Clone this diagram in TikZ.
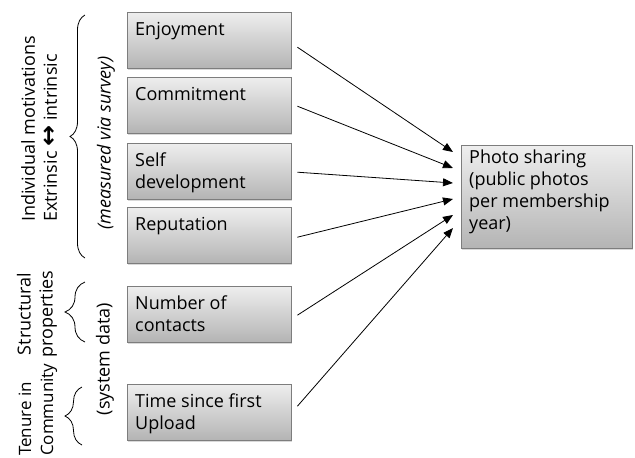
\documentclass[tikz,border=0pt]{standalone}
\usepackage{fontspec}
\setmainfont{Open Sans}
\newfontfamily\arrowfont{DejaVu Sans}
\usepackage{tikz}
\usepackage{xcolor}
\usetikzlibrary{shapes, positioning, arrows.meta, decorations.pathreplacing, shadows}

\definecolor{boxtop}{RGB}{238,238,238}
\definecolor{boxbottom}{RGB}{180,180,180}
\definecolor{boxline}{RGB}{125,125,125}

\tikzset{
    factor/.style={draw=boxline, top color=boxtop, bottom color=boxbottom, anchor=north west,
        inner xsep=8pt, inner ysep=8pt,
        drop shadow={shadow xshift=1pt, shadow yshift=-2pt, fill=black, opacity=0.15}},
    group/.style={rotate=90, inner sep=0pt},
    curly/.style={decorate, decoration={brace, amplitude=#1}, line width=0.8pt},
}
\newcommand{\boxtext}[1]{\parbox[c][40pt][t]{148pt}{\raggedright\strut #1}}

\begin{document}
\begin{tikzpicture}[x=1pt, y=-1pt, font=\fontsize{18}{22}\selectfont,
        >={Triangle[length=10pt, width=8pt]}]
        \useasboundingbox (0,0) rectangle (635,458);

        \node[factor] (enjoy) at (127, 12) {\boxtext{Enjoyment}};
        \node[factor] (commit) at (127, 77) {\boxtext{Commitment}};
        \node[factor] (self) at (127, 143) {\boxtext{Self\\development}};
        \node[factor] (rep) at (127, 207) {\boxtext{Reputation}};
        \node[factor] (contacts) at (127, 286) {\boxtext{Number of\\contacts}};
        \node[factor] (time) at (127, 384) {\boxtext{Time since first\\Upload}};
        \node[factor, inner ysep=3pt] (sharing) at (461, 145)
            {\parbox[c][97pt][t]{155pt}{\raggedright\strut Photo sharing\\(public photos\\per membership\\year)}};

        \node[group, anchor=west, align=left] (motiv) at (39, 222)
            {Individual motivations\\Extrinsic \scalebox{1.4}[1.3]{\arrowfont\bfseries ↔} intrinsic};
        \node[group] (survey) at (106, 143) {\itshape (measured via survey)};
        \node[group, align=center] (struct) at (37, 314) {Structural\\properties};
        \node[group] (system) at (105, 359) {(system data)};
        \node[group, anchor=west, align=left, font=\fontsize{17}{22}\selectfont] (tenure) at (38, 456) {Tenure in\\Community};

        \draw[curly=15pt] (85, 258) -- (85, 15);
        \draw[curly=20pt] (85, 342) -- (85, 282);
        \draw[curly=17pt] (82, 445) -- (82, 387);

        \draw[->, line width=0.8pt] ([shift={(6pt,-7pt)}]enjoy.east) -- ([shift={(-8pt,-7pt)}]sharing.north west);
        \draw[->, line width=0.8pt] ([shift={(6pt,-1pt)}]commit.east) -- ([shift={(-8pt,-23pt)}]sharing.north west);
        \draw[->, line width=0.8pt] ([shift={(6pt,-1pt)}]self.east) -- ([shift={(-8pt,-38pt)}]sharing.north west);
        \draw[->, line width=0.8pt] ([shift={(6pt,-2pt)}]rep.east) -- ([shift={(-8pt,-54pt)}]sharing.north west);
        \draw[->, line width=0.8pt] ([shift={(6pt,-1pt)}]contacts.east) -- ([shift={(-8pt,-70pt)}]sharing.north west);
        \draw[->, line width=0.8pt] ([shift={(6pt,6pt)}]time.east) -- ([shift={(-8pt,-83pt)}]sharing.north west);
    \end{tikzpicture}
\end{document}
